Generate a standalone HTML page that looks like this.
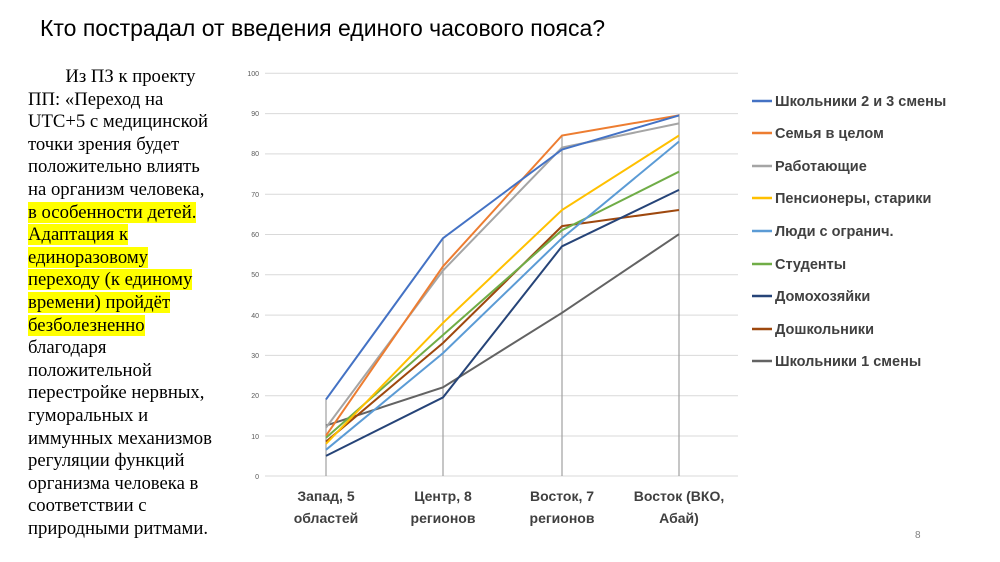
<!DOCTYPE html>
<html><head><meta charset="utf-8"><style>
body{margin:0;background:#fff;}
.wrap{position:relative;width:1000px;height:562px;overflow:hidden;background:#fff;}
.title{position:absolute;left:40px;top:15px;font:23px "Liberation Sans","Noto Sans CJK SC",sans-serif;color:#000;}
.txt{position:absolute;left:28px;top:66px;width:200px;font:18.7px/22.6px "Liberation Serif","Noto Serif CJK SC",serif;color:#000;}
.txt div{white-space:nowrap;}
.hl{background:#ffff00;}
</style></head><body><div class="wrap">
<div class="title">Кто пострадал от введения единого часового пояса?</div>
<div class="txt">
<div>&nbsp;&nbsp;&nbsp;&nbsp;&nbsp;&nbsp;&nbsp;&nbsp;Из ПЗ к проекту</div>
<div>ПП: «Переход на</div>
<div>UTC+5 с медицинской</div>
<div>точки зрения будет</div>
<div>положительно влиять</div>
<div>на организм человека,</div>
<div><span class="hl">в особенности детей.</span></div>
<div><span class="hl">Адаптация к</span></div>
<div><span class="hl">единоразовому</span></div>
<div><span class="hl">переходу (к единому</span></div>
<div><span class="hl">времени) пройдёт</span></div>
<div><span class="hl">безболезненно</span></div>
<div>благодаря</div>
<div>положительной</div>
<div>перестройке нервных,</div>
<div>гуморальных и</div>
<div>иммунных механизмов</div>
<div>регуляции функций</div>
<div>организма человека в</div>
<div>соответствии с</div>
<div>природными ритмами.</div>
</div>
<svg width="1000" height="562" style="position:absolute;left:0;top:0" font-family="Liberation Sans, sans-serif">
<g stroke="#d9d9d9" stroke-width="1">
<line x1="265" x2="738" y1="73.3" y2="73.3"/><line x1="265" x2="738" y1="113.6" y2="113.6"/><line x1="265" x2="738" y1="153.9" y2="153.9"/><line x1="265" x2="738" y1="194.2" y2="194.2"/><line x1="265" x2="738" y1="234.5" y2="234.5"/><line x1="265" x2="738" y1="274.8" y2="274.8"/><line x1="265" x2="738" y1="315.1" y2="315.1"/><line x1="265" x2="738" y1="355.4" y2="355.4"/><line x1="265" x2="738" y1="395.7" y2="395.7"/><line x1="265" x2="738" y1="436" y2="436"/><line x1="265" x2="738" y1="476" y2="476"/>
</g>
<g font-size="7" fill="#595959" text-anchor="end">
<text x="259" y="76">100</text><text x="259" y="116">90</text><text x="259" y="156">80</text><text x="259" y="197">70</text><text x="259" y="237">60</text><text x="259" y="277">50</text><text x="259" y="318">40</text><text x="259" y="358">30</text><text x="259" y="398">20</text><text x="259" y="439">10</text><text x="259" y="479">0</text>
</g>
<g stroke="#a0a0a0" stroke-width="1.2">
<line x1="326" x2="326" y1="399" y2="476"/><line x1="443" x2="443" y1="238" y2="476"/><line x1="562" x2="562" y1="135" y2="476"/><line x1="679" x2="679" y1="114" y2="476"/>
</g>
<g fill="none" stroke-width="2">
<polyline stroke="#636363" points="326,425.6 443,387.3 562,312.8 679,234.2"/>
<polyline stroke="#9E480E" points="326,441.7 443,343 562,226.1 679,210"/>
<polyline stroke="#264478" points="326,455.9 443,397.4 562,246.3 679,189.9"/>
<polyline stroke="#70AD47" points="326,437.7 443,335 562,230.2 679,171.7"/>
<polyline stroke="#5B9BD5" points="326,449.8 443,353.1 562,238.2 679,141.5"/>
<polyline stroke="#FFC000" points="326,443.8 443,322.9 562,210 679,135.5"/>
<polyline stroke="#A5A5A5" points="326,427.6 443,270.5 562,147.6 679,123.4"/>
<polyline stroke="#ED7D31" points="326,435.7 443,266.4 562,135.5 679,115.4"/>
<polyline stroke="#4472C4" points="326,399.4 443,238.2 562,149.6 679,115.4"/>
</g>
<g font-size="14" font-weight="bold" fill="#404040" text-anchor="middle">
<text x="326" y="501">Запад, 5</text><text x="326" y="523">областей</text>
<text x="443" y="501">Центр, 8</text><text x="443" y="523">регионов</text>
<text x="562" y="501">Восток, 7</text><text x="562" y="523">регионов</text>
<text x="679" y="501">Восток (ВКО,</text><text x="679" y="523">Абай)</text>
</g>
<g stroke-width="2.5">
<line x1="752" x2="772" y1="101" y2="101" stroke="#4472C4"/>
<line x1="752" x2="772" y1="133" y2="133" stroke="#ED7D31"/>
<line x1="752" x2="772" y1="166" y2="166" stroke="#A5A5A5"/>
<line x1="752" x2="772" y1="198" y2="198" stroke="#FFC000"/>
<line x1="752" x2="772" y1="231" y2="231" stroke="#5B9BD5"/>
<line x1="752" x2="772" y1="264" y2="264" stroke="#70AD47"/>
<line x1="752" x2="772" y1="296" y2="296" stroke="#264478"/>
<line x1="752" x2="772" y1="329" y2="329" stroke="#9E480E"/>
<line x1="752" x2="772" y1="361" y2="361" stroke="#636363"/>
</g>
<g font-size="14.5" font-weight="bold" fill="#404040">
<text x="775" y="106">Школьники 2 и 3 смены</text>
<text x="775" y="138">Семья в целом</text>
<text x="775" y="171">Работающие</text>
<text x="775" y="203">Пенсионеры, старики</text>
<text x="775" y="236">Люди с огранич.</text>
<text x="775" y="269">Студенты</text>
<text x="775" y="301">Домохозяйки</text>
<text x="775" y="334">Дошкольники</text>
<text x="775" y="366">Школьники 1 смены</text>
</g>
<text x="915" y="538" font-size="10" fill="#808080">8</text>
</svg>
</div></body></html>
